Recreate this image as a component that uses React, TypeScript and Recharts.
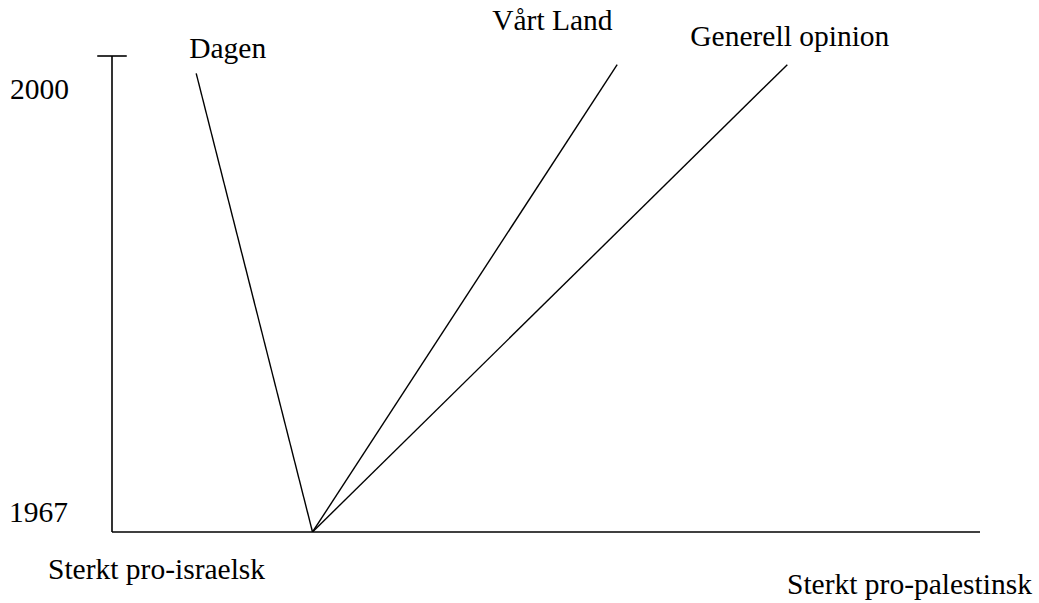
import React from "react";
import { LineChart, Line, XAxis, YAxis, ReferenceLine, Customized } from "recharts";

// Data
const seriesNames = ["Dagen", "Vårt Land", "Generell opinion"];
const startPosition = 23.1; // position on scale 0 (sterkt pro-israelsk) .. 100 (sterkt pro-palestinsk)
const startYear = 1967;
const endPositions = [9.7, 58.2, 77.8];
const endYears = [1998.8, 1999.4, 1999.4];
const yearLabels = ["2000", "1967"];
const axisLabels = ["Sterkt pro-israelsk", "Sterkt pro-palestinsk"];

// Style / layout (not data)
const FONT = "'Liberation Serif', 'Times New Roman', serif";
const FONT_SIZE = 29.5;
const labelOffsets = [
  { dx: -7, dy: -15 },
  { dx: -125, dy: -35 },
  { dx: -97, dy: -19 },
];

const seriesData = seriesNames.map((name, i) => [
  { x: startPosition, year: startYear },
  { x: endPositions[i], year: endYears[i], name },
]);

const makeLabel = (i: number) => (props: any) => {
  if (props.index !== 1) return <g />;
  return (
    <text
      x={props.x + labelOffsets[i].dx}
      y={props.y + labelOffsets[i].dy}
      fontFamily={FONT}
      fontSize={FONT_SIZE}
      fill="#000"
      textAnchor="start"
    >
      {seriesNames[i]}
    </text>
  );
};

const StaticLabels = () => (
  <g fontFamily={FONT} fontSize={FONT_SIZE} fill="#000">
    <text x={10} y={99}>{yearLabels[0]}</text>
    <text x={9} y={522}>{yearLabels[1]}</text>
    <text x={48} y={579}>{axisLabels[0]}</text>
    <text x={787} y={594}>{axisLabels[1]}</text>
  </g>
);

export default function App() {
  return (
    <div style={{ position: "absolute", left: 0, top: 0, background: "#fff" }}>
      <LineChart
        width={1039}
        height={603}
        margin={{ top: 56, right: 59, bottom: 41, left: 52 }}
      >
        <XAxis
          type="number"
          dataKey="x"
          domain={[0, 100]}
          allowDataOverflow
          tick={false}
          tickLine={false}
          axisLine={{ stroke: "#000", strokeWidth: 1.6 }}
          height={30}
        />
        <YAxis
          type="number"
          dataKey="year"
          domain={[1967, 2000]}
          allowDataOverflow
          tick={false}
          tickLine={false}
          axisLine={{ stroke: "#000", strokeWidth: 1.6 }}
          width={60}
        />
        <ReferenceLine
          segment={[
            { x: -1.7, y: 2000 },
            { x: 1.7, y: 2000 },
          ]}
          stroke="#000"
          strokeWidth={1.6}
          ifOverflow="visible"
        />
        {seriesData.map((d, i) => (
          <Line
            key={seriesNames[i]}
            data={d}
            dataKey="year"
            name={seriesNames[i]}
            type="linear"
            stroke="#000"
            strokeWidth={1.4}
            dot={false}
            activeDot={false}
            isAnimationActive={false}
            label={makeLabel(i)}
          />
        ))}
        <Customized component={<StaticLabels />} />
      </LineChart>
    </div>
  );
}
